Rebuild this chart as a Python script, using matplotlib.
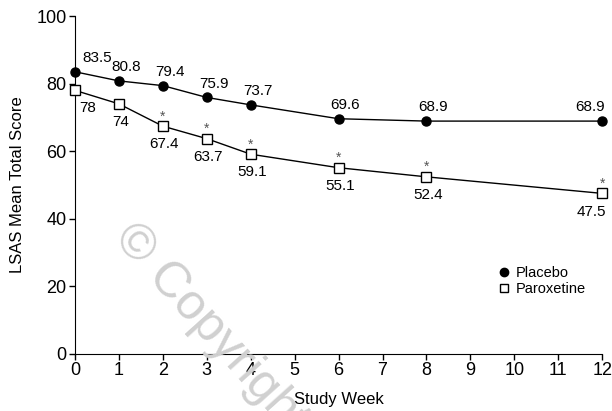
import matplotlib
matplotlib.use("Agg")
from matplotlib import pyplot as plt
from matplotlib.lines import Line2D

plt.rcParams['font.family'] = ['Liberation Sans', 'DejaVu Sans']

weeks = [0, 1, 2, 3, 4, 6, 8, 12]
placebo = [83.5, 80.8, 79.4, 75.9, 73.7, 69.6, 68.9, 68.9]
paroxetine = [78, 74, 67.4, 63.7, 59.1, 55.1, 52.4, 47.5]
signif = [False, False, True, True, True, True, True, True]

fig = plt.figure(figsize=(6.12, 4.11), dpi=100)
ax = fig.add_axes([0.1225, 0.139, 0.8615, 0.822])

ax.plot(weeks, placebo, color='black', lw=1, marker='o', ms=6.5,
        mfc='black', mec='black', clip_on=False, zorder=3)
ax.plot(weeks, paroxetine, color='black', lw=1, marker='s', ms=6.5,
        mfc='white', mec='black', mew=1, clip_on=False, zorder=3)

# value labels
for i, (w, v) in enumerate(zip(weeks, placebo)):
    dx = 16 if i == 0 else (-9 if i == len(weeks) - 1 else 5)
    ax.annotate(f'{v:g}', (w, v), xytext=(dx, 5), textcoords='offset points',
                ha='center', va='bottom', fontsize=11)
for i, (w, v) in enumerate(zip(weeks, paroxetine)):
    dx = 9 if i == 0 else (-8 if i == len(weeks) - 1 else 1)
    ax.annotate(f'{v:g}', (w, v), xytext=(dx, -8), textcoords='offset points',
                ha='center', va='top', fontsize=11)
    if signif[i]:
        ax.annotate('*', (w, v), xytext=(0, 2), textcoords='offset points',
                    ha='center', va='bottom', fontsize=10, color='#555555')

ax.set_xlim(0, 12)
ax.set_ylim(0, 100)
ax.set_xticks(range(0, 13))
ax.set_yticks(range(0, 101, 20))
ax.tick_params(labelsize=13, direction='out', length=4, width=1, pad=2)
ax.spines['top'].set_visible(False)
ax.spines['right'].set_visible(False)
ax.set_xlabel('Study Week', fontsize=12, labelpad=9)
ax.set_ylabel('LSAS Mean Total Score', fontsize=12, labelpad=8)

handles = [
    Line2D([], [], ls='none', marker='o', ms=6, mfc='black', mec='black'),
    Line2D([], [], ls='none', marker='s', ms=6, mfc='white', mec='black'),
]
ax.legend(handles, ['Placebo', 'Paroxetine'], loc='upper left',
          bbox_to_anchor=(0.78, 0.30), frameon=False, fontsize=10.5,
          handlelength=0.6, handletextpad=0.5, labelspacing=0.15)

# watermark
fig.text(0.20, 0.44, '\u00a9 Copyright', fontsize=36, color='#d0d0d0',
         rotation=-48, rotation_mode='anchor', ha='left', va='center', zorder=0)

fig.savefig('out.png', dpi=100)
